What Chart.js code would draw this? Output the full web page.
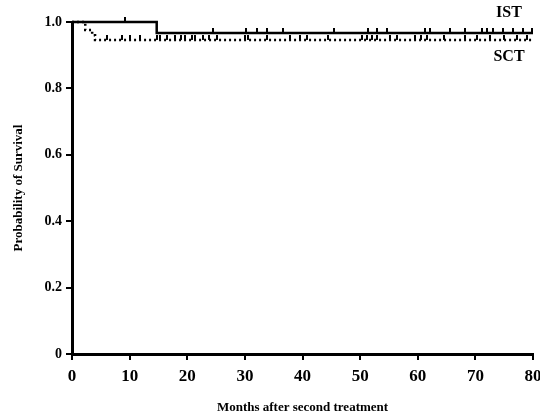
<!DOCTYPE html>
<html lang="en">
<head>
    <meta charset="UTF-8">
    <title>Probability of Survival</title>
    <script src="https://cdn.jsdelivr.net/npm/chart.js"></script>
    <style>
        body { margin: 0; background: #fff; }
    </style>
</head>
<body>
    <canvas id="myChart" width="540" height="415"></canvas>

    <script>
        // Kaplan-Meier steps (month, survival)
        const istTimes = [0, 14.7, 80];
        const istSurv = [1, 0.967, 0.967];
        const sctTimes = [0, 2.3, 3.5, 4.0, 80];
        const sctSurv = [1, 0.976, 0.96, 0.946, 0.946];

        // censored observations (tick marks)
        const istCensor = [9.2, 24.4, 30.2, 32.1, 33.8, 36.7, 45.4, 51.3, 53.0, 54.7, 61.3, 62.2,
            65.6, 68.2, 71.1, 72.0, 73.1, 74.8, 76.6, 78.3, 79.8];
        const sctCensor = [6.0, 8.6, 10.1, 11.8, 14.7, 15.3, 16.4, 17.9, 19.0, 19.6, 20.8, 21.4,
            22.8, 23.7, 25.1, 30.0, 30.6, 33.8, 37.8, 39.6, 40.7, 44.5, 50.3, 51.2, 52.0, 53.0,
            55.2, 56.4, 59.5, 60.6, 61.6, 64.5, 68.2, 70.3, 72.6, 74.9, 77.2, 78.9];

        const xTicks = [0, 10, 20, 30, 40, 50, 60, 70, 80];
        const yTicks = [0, 0.2, 0.4, 0.6, 0.8, 1.0];

        const FONT = "'Liberation Serif', 'Times New Roman', serif";

        // survival level of a step curve at time t
        function levelAt(times, surv, t) {
            let s = surv[0];
            for (let i = 0; i < times.length; i++) {
                if (times[i] <= t) s = surv[i];
            }
            return s;
        }

        const toPts = (xs, ys) => xs.map((x, i) => ({ x: x, y: ys[i] }));

        // little upward tick used as point style for censored cases
        function tickMark(h) {
            const c = document.createElement('canvas');
            c.width = 2;
            c.height = h * 2;
            const g = c.getContext('2d');
            g.fillStyle = '#000';
            g.fillRect(0, 0, 2, h);
            return c;
        }
        const tick = tickMark(5);

        const labelPlugin = {
            id: 'groupLabels',
            afterDraw(chart) {
                const ctx = chart.ctx;
                const area = chart.chartArea;
                ctx.save();
                ctx.fillStyle = '#000';
                ctx.font = 'bold 16px ' + FONT;
                ctx.textAlign = 'center';
                ctx.textBaseline = 'middle';
                ctx.fillText('IST', area.right - 24, 13);
                ctx.fillText('SCT', area.right - 24, 57);
                ctx.restore();
            }
        };

        const config = {
            type: 'line',
            data: {
                datasets: [{
                    label: 'IST',
                    data: toPts(istTimes, istSurv),
                    stepped: true,
                    clip: false,
                    borderColor: '#000',
                    borderWidth: 2.5,
                    pointRadius: 0
                }, {
                    label: 'SCT',
                    data: toPts(sctTimes, sctSurv),
                    stepped: true,
                    clip: false,
                    borderColor: '#000',
                    borderWidth: 2.5,
                    borderDash: [2, 3],
                    pointRadius: 0
                }, {
                    label: 'IST censored',
                    type: 'scatter',
                    clip: false,
                    data: istCensor.map(t => ({ x: t, y: levelAt(istTimes, istSurv, t) })),
                    pointStyle: tick,
                    showLine: false
                }, {
                    label: 'SCT censored',
                    type: 'scatter',
                    clip: false,
                    data: sctCensor.map(t => ({ x: t, y: levelAt(sctTimes, sctSurv, t) })),
                    pointStyle: tick,
                    showLine: false
                }]
            },
            options: {
                responsive: false,
                animation: false,
                layout: { padding: { top: 22, right: 7, left: 0, bottom: 0 } },
                plugins: {
                    legend: { display: false },
                    tooltip: { enabled: false }
                },
                scales: {
                    x: {
                        type: 'linear',
                        min: 0,
                        max: 80,
                        afterBuildTicks: s => { s.ticks = xTicks.map(v => ({ value: v })); },
                        afterFit: s => { s.height = 61; s.paddingLeft = 0; s.paddingRight = 0; },
                        border: { display: true, color: '#000', width: 3 },
                        grid: { drawOnChartArea: false, drawTicks: true, tickLength: 6, color: '#000', lineWidth: 2 },
                        ticks: {
                            color: '#000',
                            padding: 6,
                            maxRotation: 0,
                            autoSkip: false,
                            font: { family: FONT, size: 17, weight: 'bold' }
                        },
                        title: {
                            display: true,
                            text: 'Months after second treatment',
                            color: '#000',
                            padding: { top: 0, bottom: 0 },
                            font: { family: FONT, size: 13, weight: 'bold' }
                        }
                    },
                    y: {
                        type: 'linear',
                        min: 0,
                        max: 1,
                        afterBuildTicks: s => { s.ticks = yTicks.map(v => ({ value: v })); },
                        afterFit: s => { s.width = 72; s.paddingTop = 0; s.paddingBottom = 0; },
                        border: { display: true, color: '#000', width: 3 },
                        grid: { drawOnChartArea: false, drawTicks: true, tickLength: 6, color: '#000', lineWidth: 2 },
                        ticks: {
                            color: '#000',
                            padding: 4,
                            callback: v => (v === 0 ? '0' : v.toFixed(1)),
                            font: { family: FONT, size: 14, weight: 'bold' }
                        },
                        title: {
                            display: true,
                            text: 'Probability of Survival',
                            color: '#000',
                            padding: { top: 11, bottom: 0 },
                            font: { family: FONT, size: 13, weight: 'bold' }
                        }
                    }
                }
            },
            plugins: [labelPlugin]
        };

        const ctx = document.getElementById('myChart').getContext('2d');
        new Chart(ctx, config);
    </script>
</body>
</html>
